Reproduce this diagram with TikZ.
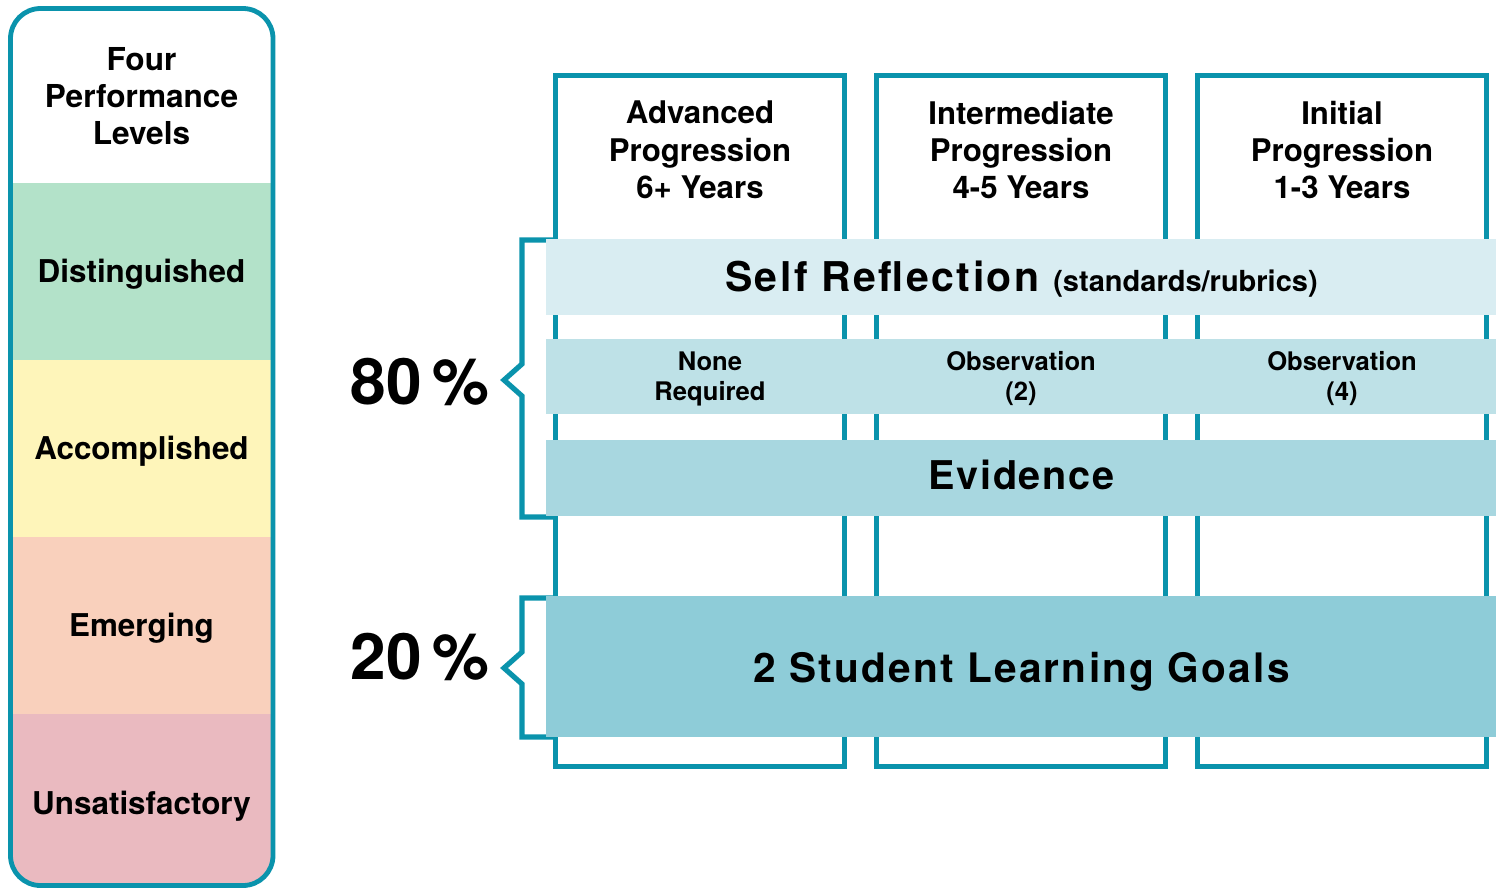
\documentclass[tikz,border=0pt]{standalone}
\usepackage{fontspec}
\setmainfont{TeX Gyre Heros}
\usetikzlibrary{positioning,calc}
\definecolor{rimblue}{HTML}{0A93AC}
\definecolor{lvgreen}{HTML}{B3E2C9}
\definecolor{lvyellow}{HTML}{FEF5BA}
\definecolor{lvpeach}{HTML}{F9D0BC}
\definecolor{lvpink}{HTML}{EABAC0}
\definecolor{barA}{HTML}{D9EDF2}
\definecolor{barB}{HTML}{BEE1E7}
\definecolor{barC}{HTML}{A8D7E0}
\definecolor{barD}{HTML}{8ECCD8}
\tikzset{
  rim/.style={draw=rimblue,line width=2.4pt},
  brace/.style={draw=rimblue,line width=2.6pt,line join=miter},
  level/.style={minimum width=132pt,minimum height=88.5pt,inner sep=0pt,
    text height=11.3pt,text depth=0pt,font=\bfseries\fontsize{15.7}{18.5}\selectfont},
  column/.style={rim,minimum width=144.5pt,minimum height=345.5pt,inner sep=0pt,outer sep=0pt},
  head/.style={align=center,font=\bfseries\fontsize{15.6}{18.7}\selectfont},
  bar/.style={minimum width=475pt,inner sep=0pt,anchor=north west},
  bartext/.style={font=\bfseries\fontsize{20.5}{20.5}\selectfont\addfontfeature{LetterSpace=6}},
  small/.style={align=center,font=\bfseries\fontsize{12.8}{15}\selectfont},
  big/.style={font=\bfseries\fontsize{32}{32}\selectfont}
}

\begin{document}
\begin{tikzpicture}[x=0.5pt,y=-0.5pt]
\useasboundingbox (0,0) rectangle (1498,889);
% four levels
\begin{scope}
\clip[rounded corners=15pt] (10.5,8.5) rectangle (273,885.5);
\fill[white] (10,8) rectangle (273,183);
\node[level,fill=lvgreen] (dist) at (141.5,271.5) {Distinguished};
\node[level,fill=lvyellow] (acc) at (141.5,448.5) {Accomplished};
\node[level,fill=lvpeach] (emer) at (141.5,625.5) {Emerging};
\node[level,fill=lvpink,minimum height=90pt] (unsat) at (141.5,804) {};
\end{scope}
\node[level] (unsatt) at (141.5,803) {Unsatisfactory};
\draw[rim,rounded corners=15pt] (10.5,8.5) rectangle (273,885.5);
\node[head,font=\bfseries\fontsize{15.8}{18.5}\selectfont] (four) at (141.5,96) {Four\\Performance\\Levels};
% three progressions
\node[column] (adv) at (700,421) {};
\node[column,right=16pt of adv] (inter) {};
\node[column,right=16pt of inter] (init) {};
\node[head] (advt) at (adv.center |- 0,150) {Advanced\\Progression\\6+ Years};
\node[head] (intert) at (inter.center |- 0,150) {Intermediate\\Progression\\4-5 Years};
\node[head] (initt) at (init.center |- 0,150) {Initial\\Progression\\1-3 Years};
% brackets
\draw[brace] (555,240) -- (522,240) -- (522,364) -- (504,380) -- (522,396) -- (522,517) -- (555,517);
\draw[brace] (555,598) -- (522,598) -- (522,652) -- (504,668) -- (522,684) -- (522,737) -- (555,737);
% bars
\node[bar,fill=barA,minimum height=38pt] (self) at (546,239) {};
\node[bartext] (selft) at ($(self.center)+(0,2)$) {Self Reflection \fontsize{14.5}{14.5}\selectfont\addfontfeature{LetterSpace=0}(standards/rubrics)};
\node[bar,fill=barB,minimum height=37.5pt] (obs) at (546,339) {};
\node[small] (none) at (710,379) {None\\Required};
\node[small] (obs2) at (inter.center |- 0,379) {Observation\\(2)};
\node[small] (obs4) at (init.center |- 0,379) {Observation\\(4)};
\node[bar,fill=barC,minimum height=38pt] (evid) at (546,440) {};
\node[bartext,font=\bfseries\fontsize{19.8}{19.8}\selectfont\addfontfeature{LetterSpace=4.5}] (evidt) at ($(evid.center)+(0,-3)$) {Evidence};
\node[bar,fill=barD,minimum height=70.5pt] (goals) at (546,596) {};
\node[bartext,font=\bfseries\fontsize{20.3}{20.3}\selectfont\addfontfeature{LetterSpace=5.5}] (goalst) at ($(goals.center)+(0,5)$) {2 Student Learning Goals};
\node[big] (eighty) at (420,382) {80\,\%};
\node[big] (twenty) at (420,657) {20\,\%};
\end{tikzpicture}
\end{document}
